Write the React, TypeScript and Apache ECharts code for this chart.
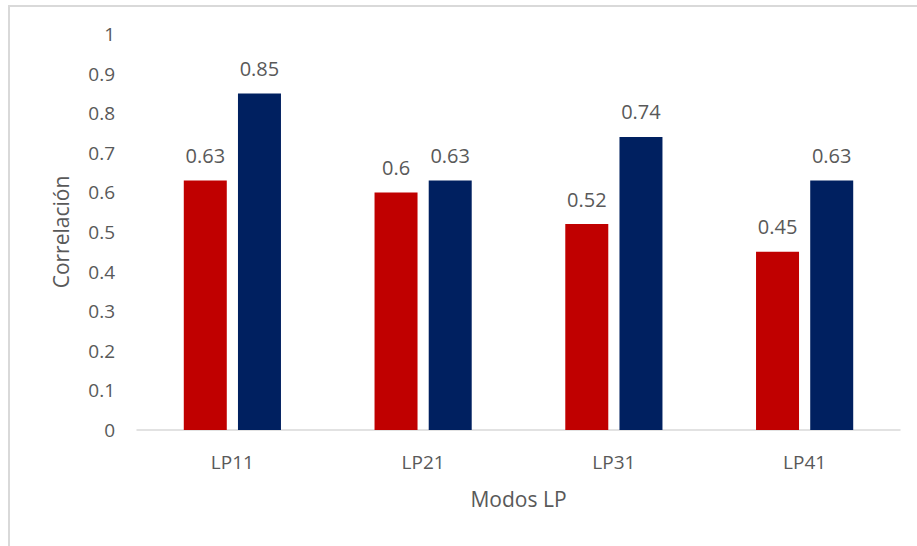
import React, { useEffect, useRef } from "react";
import * as echarts from "echarts";

const categories = ["LP11", "LP21", "LP31", "LP41"];
const seriesRed = [0.63, 0.6, 0.52, 0.45];
const seriesBlue = [0.85, 0.63, 0.74, 0.63];
const yTicks = { min: 0, max: 1, interval: 0.1 };

export default function App() {
  const ref = useRef<HTMLDivElement>(null);
  useEffect(() => {
    if (!ref.current) return;
    const chart = echarts.init(ref.current, null, { renderer: "svg" });
    const font = "Open Sans";
    const gray = "#595959";
    chart.setOption({
      animation: false,
      backgroundColor: "#ffffff",
      textStyle: { fontFamily: font },
      graphic: [
        {
          type: "rect",
          shape: { x: 9, y: 6, width: 1000, height: 700 },
          style: { fill: "none", stroke: "#d9d9d9", lineWidth: 2 },
          silent: true,
        },
      ],
      grid: { left: 137, right: 17, top: 34, bottom: 116, containLabel: false },
      xAxis: {
        type: "category",
        data: categories,
        name: "Modos LP",
        nameLocation: "middle",
        nameGap: 58,
        nameTextStyle: { color: gray, fontSize: 21, fontFamily: font },
        axisLine: { lineStyle: { color: "#d9d9d9", width: 1.5 } },
        axisTick: { show: false },
        axisLabel: { color: gray, fontSize: 19, margin: 22, fontFamily: font },
      },
      yAxis: {
        type: "value",
        min: yTicks.min,
        max: yTicks.max,
        interval: yTicks.interval,
        name: "Correlación",
        nameLocation: "middle",
        nameGap: 66,
        nameRotate: 90,
        nameTextStyle: { color: gray, fontSize: 21, fontFamily: font },
        axisLine: { show: false },
        axisTick: { show: false },
        splitLine: { show: false },
        axisLabel: { color: gray, fontSize: 19, margin: 22, fontFamily: font },
      },
      series: [
        {
          type: "bar",
          data: seriesRed,
          barWidth: 43,
          barGap: "26%",
          itemStyle: { color: "#C00000" },
          label: { show: true, position: "top", distance: 15, color: gray, fontSize: 20, fontFamily: font },
        },
        {
          type: "bar",
          data: seriesBlue,
          barWidth: 43,
          itemStyle: { color: "#002060" },
          label: { show: true, position: "top", distance: 15, color: gray, fontSize: 20, fontFamily: font },
        },
      ],
    });
    return () => chart.dispose();
  }, []);
  return (
    <div
      ref={ref}
      style={{ position: "fixed", left: 0, top: 0, width: 917, height: 546 }}
    />
  );
}
